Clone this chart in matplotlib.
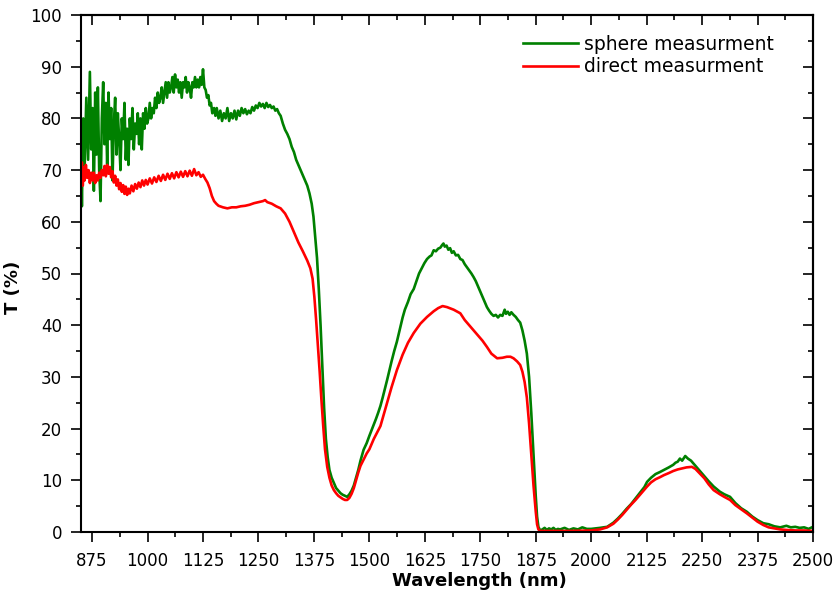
import matplotlib
matplotlib.use("Agg")
import matplotlib.pyplot as plt
from matplotlib.ticker import MultipleLocator, FixedLocator

plt.rcParams['font.family'] = ['DejaVu Sans']

# ---------------- data ----------------
sphere_wl = [850, 852, 855, 858, 862, 866, 870, 873, 876, 879, 882, 885, 888, 891, 894, 897,
             900, 903, 906, 909, 912, 915, 918, 921, 924, 927, 930, 933, 936, 939, 942, 945,
             948, 951, 954, 957, 960, 963, 966, 969, 972, 975, 978, 981, 984, 987, 990, 993,
             996, 999, 1002, 1005, 1008, 1011, 1014, 1017, 1020, 1023, 1026, 1029, 1032, 1035,
             1038, 1041, 1044, 1047, 1050, 1053, 1056, 1059, 1062, 1065, 1068, 1071, 1074, 1077,
             1080, 1083, 1086, 1089, 1092, 1095, 1098, 1101, 1104, 1107, 1110, 1113, 1116, 1119,
             1122, 1125, 1128, 1131, 1134, 1137, 1140, 1143, 1146, 1150, 1153, 1156, 1160, 1164,
             1168, 1172, 1176, 1180, 1184, 1188, 1192, 1196, 1200, 1204, 1208, 1212, 1216, 1220,
             1224, 1228, 1232, 1236, 1240, 1244, 1248, 1252, 1256, 1260, 1264, 1268, 1272, 1276,
             1280, 1284, 1288, 1292, 1296, 1300, 1305, 1310, 1315, 1320, 1325, 1330, 1335, 1340,
             1345, 1350, 1355, 1360, 1365, 1370, 1374, 1378, 1382, 1386, 1390, 1394, 1398, 1402,
             1406, 1410, 1415, 1420, 1425, 1430, 1435, 1440, 1445, 1450, 1455, 1460, 1465, 1470,
             1475, 1480, 1487, 1494, 1500, 1505, 1510, 1515, 1520, 1525, 1530, 1535, 1540, 1545,
             1550, 1556, 1562, 1568, 1575, 1580, 1587, 1593, 1600, 1606, 1612, 1618, 1624, 1630,
             1636, 1640, 1645, 1650, 1655, 1660, 1664, 1667, 1670, 1674, 1678, 1682, 1686, 1690,
             1695, 1700, 1705, 1710, 1715, 1720, 1725, 1730, 1735, 1740, 1745, 1750, 1755, 1760,
             1765, 1770, 1775, 1780, 1785, 1790, 1795, 1800, 1805, 1808, 1812, 1816, 1820, 1825,
             1830, 1835, 1840, 1845, 1850, 1855, 1860, 1865, 1870, 1875, 1878, 1881, 1885, 1890,
             1895, 1900, 1905, 1910, 1915, 1920, 1925, 1930, 1940, 1950, 1960, 1970, 1980, 1990,
             2000, 2010, 2020, 2036, 2050, 2060, 2070, 2080, 2090, 2100, 2110, 2120, 2126, 2135,
             2145, 2155, 2164, 2175, 2185, 2190, 2195, 2200, 2205, 2212, 2218, 2225, 2235, 2245,
             2255, 2265, 2276, 2290, 2300, 2313, 2325, 2338, 2351, 2363, 2375, 2388, 2400, 2413,
             2426, 2440, 2450, 2460, 2470, 2480, 2490, 2500]
sphere_T = [75, 63, 80, 70, 84, 72, 89, 74, 82, 66, 85, 73, 86, 70, 64, 80,
            87, 75, 83, 71, 85, 76, 82, 68, 79, 84, 73, 81, 76, 70, 80, 76,
            83, 72, 78, 71, 80, 76, 82, 74, 79, 77, 81, 75, 80, 74, 81, 78,
            82, 79, 80, 83, 80, 82, 81, 84, 82, 85, 83, 84, 86, 83,
            85, 87, 84, 87, 85, 86, 88, 85, 88.5, 86, 87.5, 85, 87, 84,
            87, 86, 88, 85, 87, 86, 84, 87, 86, 88, 86, 87.5, 86, 88,
            86.5, 89.5, 86, 85.5, 84, 84.5, 82.5, 83, 81, 82, 80.5, 82, 80, 81.5,
            79.5, 81, 80, 82, 79.5, 81, 80, 81.5, 79.8, 81.5, 80.5, 82, 81, 81.8,
            80.8, 81.5, 81, 82.2, 81.5, 82.5, 82, 83, 82.3, 82.8, 82, 83, 82.2, 82.6,
            82, 82.3, 81.5, 81.8, 81, 80.5, 79, 77.8, 77, 76, 74.5, 73.5, 72, 71,
            70, 69, 68, 67, 65.5, 63.5, 61, 57, 53, 47, 40, 32, 24, 18,
            14.5, 12, 10.5, 9.5, 8.5, 8, 7.5, 7.2, 7, 6.8, 7.3, 8, 9, 10.5,
            12, 13.8, 15.9, 17.2, 18.6, 19.7, 20.8, 21.9, 23.1, 24.4, 26, 27.7, 29.4, 31.2,
            33, 35, 36.8, 39, 41.5, 43, 44.5, 46, 47, 48.5, 50, 51, 52, 52.8,
            53.3, 53.5, 54.5, 54.3, 54.8, 55, 55.5, 55.8, 55.2, 55.4, 54.6, 54.9, 54, 54.3,
            53.5, 53.6, 52.8, 52.6, 51.8, 51.2, 50.6, 50, 49.3, 48.5, 47.5, 46.5, 45.5, 44.5,
            43.5, 42.8, 42.2, 41.8, 42, 41.5, 42, 41.8, 43, 42.2, 42.6, 42, 42.5, 42,
            41.6, 41, 40.5, 39, 37, 34.5, 30, 23, 15, 7, 3, 1, 0.3, 0.5,
            0.8, 0.4, 0.7, 0.5, 0.8, 0.4, 0.6, 0.5, 0.8, 0.4, 0.7, 0.5, 0.9, 0.6,
            0.6, 0.7, 0.8, 1.0, 1.8, 2.6, 3.5, 4.5, 5.4, 6.5, 7.6, 8.7, 9.7, 10.5,
            11.2, 11.6, 12, 12.5, 13, 13.4, 13.6, 14.2, 13.8, 14.7, 14.2, 13.8, 12.8, 11.8,
            10.8, 9.8, 8.8, 7.8, 7.3, 6.8, 5.6, 4.6, 3.9, 3.0, 2.3, 1.7, 1.5, 1.1,
            0.9, 1.2, 0.9, 1.0, 0.8, 0.9, 0.6, 1.0]

direct_wl = [850, 852, 854, 856, 858, 861, 864, 867, 870, 873, 876, 879, 882, 885, 888, 891,
             894, 897, 900, 903, 906, 909, 912, 915, 918, 921, 924, 927, 930, 933, 936, 939,
             942, 945, 948, 951, 954, 957, 960, 964, 968, 972, 976, 980, 984, 988, 992, 996,
             1000, 1005, 1010, 1015, 1020, 1025, 1030, 1035, 1040, 1045, 1050, 1055, 1060, 1065,
             1070, 1075, 1080, 1085, 1090, 1095, 1100, 1105, 1110, 1115, 1120, 1125, 1130, 1135,
             1140, 1145, 1150, 1155, 1160, 1170, 1180, 1190, 1200, 1210, 1220, 1230, 1240, 1250,
             1260, 1265, 1270, 1280, 1290, 1300, 1310, 1320, 1330, 1340, 1350, 1360, 1367, 1372,
             1376, 1380, 1384, 1388, 1392, 1396, 1400, 1405, 1410, 1415, 1420, 1425, 1430, 1435,
             1440, 1445, 1450, 1455, 1460, 1465, 1470, 1475, 1480, 1487, 1494, 1500, 1510, 1525,
             1540, 1550, 1562, 1575, 1587, 1600, 1615, 1630, 1645, 1655, 1665, 1675, 1690, 1705,
             1715, 1725, 1735, 1745, 1755, 1765, 1775, 1788, 1800, 1810, 1818, 1825, 1833, 1840,
             1845, 1850, 1855, 1860, 1865, 1870, 1875, 1878, 1881, 1885, 1900, 1950, 2000, 2020,
             2036, 2050, 2060, 2070, 2080, 2090, 2100, 2110, 2120, 2126, 2135, 2145, 2155, 2164,
             2175, 2185, 2195, 2205, 2215, 2227, 2235, 2245, 2255, 2265, 2276, 2290, 2300, 2313,
             2325, 2338, 2351, 2363, 2375, 2388, 2400, 2413, 2426, 2440, 2460, 2480, 2500]
direct_T = [69, 71.5, 67, 70.5, 68, 71, 68.5, 70, 67.5, 69.5, 68, 69.5, 67.5, 69, 68, 69.5,
            68.5, 70, 69, 70.8, 68.8, 71, 69.3, 70.6, 68.6, 69.8, 67.6, 68.9, 67, 68.2, 66.3, 67.5,
            65.8, 67.1, 65.4, 66.8, 65.2, 66.4, 65.5, 67, 65.9, 67.3, 66.4, 67.6, 66.7, 68, 67, 68.1,
            67.2, 68.4, 67.4, 68.6, 67.7, 68.9, 67.9, 69.1, 68.1, 69.3, 68.3, 69.4, 68.4, 69.6,
            68.6, 69.7, 68.7, 69.8, 68.8, 69.9, 68.9, 70.2, 69, 69.6, 68.7, 69.1, 68.3, 67.6,
            66.5, 65, 64, 63.5, 63.1, 62.8, 62.6, 62.8, 62.8, 63, 63.1, 63.3, 63.6, 63.8,
            64, 64.2, 63.8, 63.5, 63, 62.6, 61.6, 60, 58, 56, 54.3, 52.5, 51, 49,
            45.5, 41, 36, 31, 25.5, 20.5, 16, 12.6, 10.5, 9, 8.1, 7.5, 7, 6.7,
            6.4, 6.2, 6.2, 6.6, 7.4, 8.5, 10, 11.5, 12.8, 14, 15.2, 16, 18, 20.5,
            25, 28, 31.3, 34.3, 36.6, 38.5, 40.3, 41.6, 42.7, 43.3, 43.7, 43.5, 43, 42.3,
            41, 40, 39, 38, 37, 35.8, 34.5, 33.6, 33.7, 33.9, 33.9, 33.6, 33, 32.3,
            31, 29, 26, 21, 15, 9, 4, 1.5, 0.5, 0.2, 0.2, 0.2, 0.3, 0.5,
            0.9, 1.6, 2.4, 3.3, 4.3, 5.3, 6.2, 7.2, 8.2, 8.8, 9.6, 10.2, 10.6, 11,
            11.4, 11.8, 12.1, 12.3, 12.5, 12.6, 12.2, 11.3, 10.4, 9.2, 8.1, 7.3, 6.8, 6.2,
            5.2, 4.4, 3.6, 2.8, 2.0, 1.35, 0.9, 0.7, 0.5, 0.4, 0.3, 0.3, 0.2]

series_labels = ["sphere measurment", "direct measurment"]
x_ticks = [875, 1000, 1125, 1250, 1375, 1500, 1625, 1750, 1875, 2000, 2125, 2250, 2375, 2500]
y_ticks = [0, 10, 20, 30, 40, 50, 60, 70, 80, 90, 100]

# ---------------- figure ----------------
fig = plt.figure(figsize=(8.36, 5.93), dpi=100)
ax = fig.add_axes([81 / 836, 1 - 532 / 593, (813 - 81) / 836, (532 - 15) / 593])

ax.plot(sphere_wl, sphere_T, color='#008000', lw=1.9, label=series_labels[0])
ax.plot(direct_wl, direct_T, color='#ff0000', lw=1.9, label=series_labels[1])

ax.set_xlim(850, 2500)
ax.set_ylim(0, 100)
x_minor = [t + 62.5 for t in x_ticks[:-1]]
ax.xaxis.set_major_locator(FixedLocator(x_ticks))
ax.xaxis.set_minor_locator(FixedLocator(x_minor))
ax.yaxis.set_major_locator(FixedLocator(y_ticks))
ax.yaxis.set_minor_locator(MultipleLocator(5))

for s in ax.spines.values():
    s.set_linewidth(1.5)

ax.tick_params(which='both', width=1.2, labelsize=12, direction='out', top=False, right=False)
ax.tick_params(which='major', length=7.5)
ax.tick_params(which='minor', length=3.5)
ax.tick_params(axis='x', which='major', pad=7)
ax.tick_params(axis='y', which='major', pad=6)

ax2 = ax.secondary_xaxis('top')
ax2.xaxis.set_major_locator(FixedLocator(x_ticks))
ax2.xaxis.set_minor_locator(FixedLocator(x_minor))
ax2.tick_params(which='both', direction='in', labeltop=False, width=1.2)
ax2.tick_params(which='major', length=7)
ax2.tick_params(which='minor', length=3.5)
ax2.spines['top'].set_linewidth(1.5)
ay2 = ax.secondary_yaxis('right')
ay2.yaxis.set_major_locator(FixedLocator(y_ticks))
ay2.yaxis.set_minor_locator(MultipleLocator(5))
ay2.tick_params(which='both', direction='in', labelright=False, width=1.2)
ay2.tick_params(which='major', length=7)
ay2.tick_params(which='minor', length=3.5)
ay2.spines['right'].set_linewidth(1.5)

ax.set_xlabel("Wavelength (nm)", fontsize=13, fontweight='bold')
ax.set_ylabel("T (%)", fontsize=13, fontweight='bold')
ax.xaxis.set_label_coords(0.544, -0.078)
ax.yaxis.set_label_coords(-0.081, 0.473)

leg = ax.legend(loc='upper left', frameon=False, fontsize=13.5, handlelength=2.9,
                handletextpad=0.32, labelspacing=0.2, borderpad=0, borderaxespad=0,
                bbox_to_anchor=(0.604, 0.962))

fig.savefig("out.png", dpi=100)
